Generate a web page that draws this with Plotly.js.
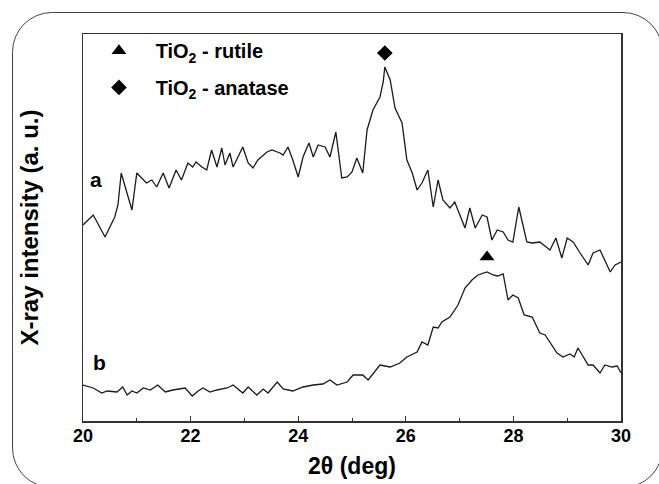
<!DOCTYPE html>
<html>
<head>
<meta charset="utf-8">
<script src="https://cdn.plot.ly/plotly-3.0.1.min.js"></script>
<style>
  html, body { margin: 0; padding: 0; background: #fff; overflow: hidden; }
  #chart { width: 659px; height: 484px; }
  #frame { position: absolute; left: 12px; top: 12px; width: 651px; height: 476px;
           border: 1.5px solid #444; border-radius: 40px; pointer-events: none; box-sizing: border-box; }
</style>
</head>
<body>
<div id="chart"></div>
<div id="frame"></div>
<script>
// 2θ (deg) and intensity (a. u.) for sample a
const thetaA = [20.00,20.19,20.41,20.59,20.65,20.71,20.91,21.00,21.18,21.28,21.37,21.49,21.60,21.73,21.83,21.95,22.04,22.10,22.21,22.30,22.39,22.49,22.58,22.64,22.73,22.79,22.97,23.07,23.16,23.25,23.42,23.51,23.66,23.72,23.81,23.90,24.00,24.09,24.20,24.28,24.37,24.50,24.59,24.70,24.81,24.91,25.00,25.09,25.20,25.28,25.39,25.52,25.58,25.61,25.71,25.80,25.93,26.02,26.12,26.21,26.30,26.41,26.51,26.60,26.69,26.82,26.91,27.10,27.19,27.29,27.42,27.51,27.60,27.70,27.81,27.90,27.99,28.10,28.25,28.35,28.49,28.68,28.79,28.90,29.00,29.11,29.24,29.39,29.48,29.61,29.80,29.89,30.00];
const intensityA = [196,206,184,204,216,248,211,248,238,241,234,248,233,251,241,258,254,259,254,251,271,254,273,256,268,254,274,258,253,261,269,271,268,266,274,261,244,264,278,264,276,274,264,289,243,244,249,263,248,291,311,324,339,354,341,313,298,261,248,231,238,251,214,241,221,213,219,193,213,193,206,204,181,191,189,181,179,214,179,178,179,171,183,163,183,179,168,156,168,171,149,156,159];

// 2θ (deg) and intensity (a. u.) for sample b
const thetaB = [20.00,20.19,20.35,20.45,20.63,20.74,20.82,20.91,21.00,21.12,21.25,21.39,21.53,21.67,21.90,22.03,22.14,22.23,22.36,22.49,22.68,22.79,22.97,23.07,23.23,23.35,23.44,23.61,23.72,23.90,24.09,24.28,24.46,24.59,24.72,24.91,25.02,25.20,25.30,25.52,25.71,25.89,26.02,26.21,26.30,26.41,26.51,26.60,26.67,26.82,26.97,27.10,27.23,27.34,27.51,27.62,27.71,27.81,27.90,27.99,28.09,28.20,28.35,28.49,28.59,28.81,28.92,29.05,29.13,29.20,29.39,29.48,29.61,29.70,29.83,29.93,30.00];
const intensityB = [36,33,28,30,29,34,26,30,28,33,31,36,29,31,33,25,30,33,29,31,33,36,28,34,26,32,28,39,32,30,34,36,37,41,36,39,46,46,41,56,54,58,64,69,79,76,94,93,99,104,116,133,141,146,149,146,145,147,121,126,123,106,104,88,86,68,64,67,64,73,56,56,48,56,54,55,48];

// Phase peak markers
const rutileTheta = [27.51];
const rutileMark = [164];
const anataseTheta = [25.61];
const anataseMark = [368];

const xTicks = [20, 22, 24, 26, 28, 30];
const curveLabels = ['a', 'b'];

const FONT = 'Liberation Sans, Arial, Helvetica, sans-serif';
const NB = '\u00a0\u00a0\u00a0';

const traces = [
  { x: thetaA, y: intensityA, mode: 'lines', name: 'a', showlegend: false,
    line: { color: '#1a1a1a', width: 1.3 } },
  { x: thetaB, y: intensityB, mode: 'lines', name: 'b', showlegend: false,
    line: { color: '#1a1a1a', width: 1.3 } },
  { x: rutileTheta, y: rutileMark, mode: 'markers', name: NB + 'TiO<sub>2</sub> - rutile',
    legend: 'legend', marker: { symbol: 'triangle-up', size: 13, color: '#000' } },
  { x: anataseTheta, y: anataseMark, mode: 'markers', name: NB + 'TiO<sub>2</sub> - anatase',
    legend: 'legend2', marker: { symbol: 'diamond', size: 12, color: '#000' } }
];

const legendFont = { family: FONT, size: 20, color: '#000', weight: 'bold' };

const layout = {
  width: 659, height: 484,
  margin: { l: 83, r: 38, t: 34, b: 63 },
  paper_bgcolor: '#fff', plot_bgcolor: '#fff',
  showlegend: true,
  legend: { x: 0.0297, y: 0.957, xanchor: 'left', yanchor: 'middle',
            bgcolor: 'rgba(0,0,0,0)', font: legendFont },
  legend2: { x: 0.0297, y: 0.862, xanchor: 'left', yanchor: 'middle',
             bgcolor: 'rgba(0,0,0,0)', font: legendFont },
  xaxis: {
    range: [20, 30], tickvals: xTicks, ticktext: xTicks.map(String),
    ticks: 'inside', ticklen: 5, tickwidth: 1.2, tickcolor: '#333',
    minor: { dtick: 1, ticks: 'inside', ticklen: 3, tickwidth: 1, tickcolor: '#333' },
    showline: true, linecolor: '#333', linewidth: 1.5, mirror: true,
    showgrid: false, zeroline: false, ticklabelstandoff: -2,
    tickfont: { family: FONT, size: 18, color: '#000', weight: 'bold' },
    title: { text: '2θ (deg)', standoff: 13,
             font: { family: FONT, size: 23, color: '#000', weight: 'bold' } }
  },
  yaxis: {
    range: [0, 387], showticklabels: false, ticks: '',
    showline: true, linecolor: '#333', linewidth: 1.5, mirror: true,
    showgrid: false, zeroline: false,
    title: { text: 'X-ray intensity (a. u.)', standoff: 36,
             font: { family: FONT, size: 24, color: '#000', weight: 'bold' } }
  },
  annotations: [
    { text: curveLabels[0], xref: 'paper', yref: 'paper', x: 0.024, y: 0.625,
      xanchor: 'center', yanchor: 'middle', showarrow: false,
      font: { family: FONT, size: 21, color: '#000', weight: 'bold' } },
    { text: curveLabels[1], xref: 'paper', yref: 'paper', x: 0.03, y: 0.15,
      xanchor: 'center', yanchor: 'middle', showarrow: false,
      font: { family: FONT, size: 21, color: '#000', weight: 'bold' } }
  ]
};

Plotly.newPlot('chart', traces, layout, { displayModeBar: false, staticPlot: true });
</script>
</body>
</html>
